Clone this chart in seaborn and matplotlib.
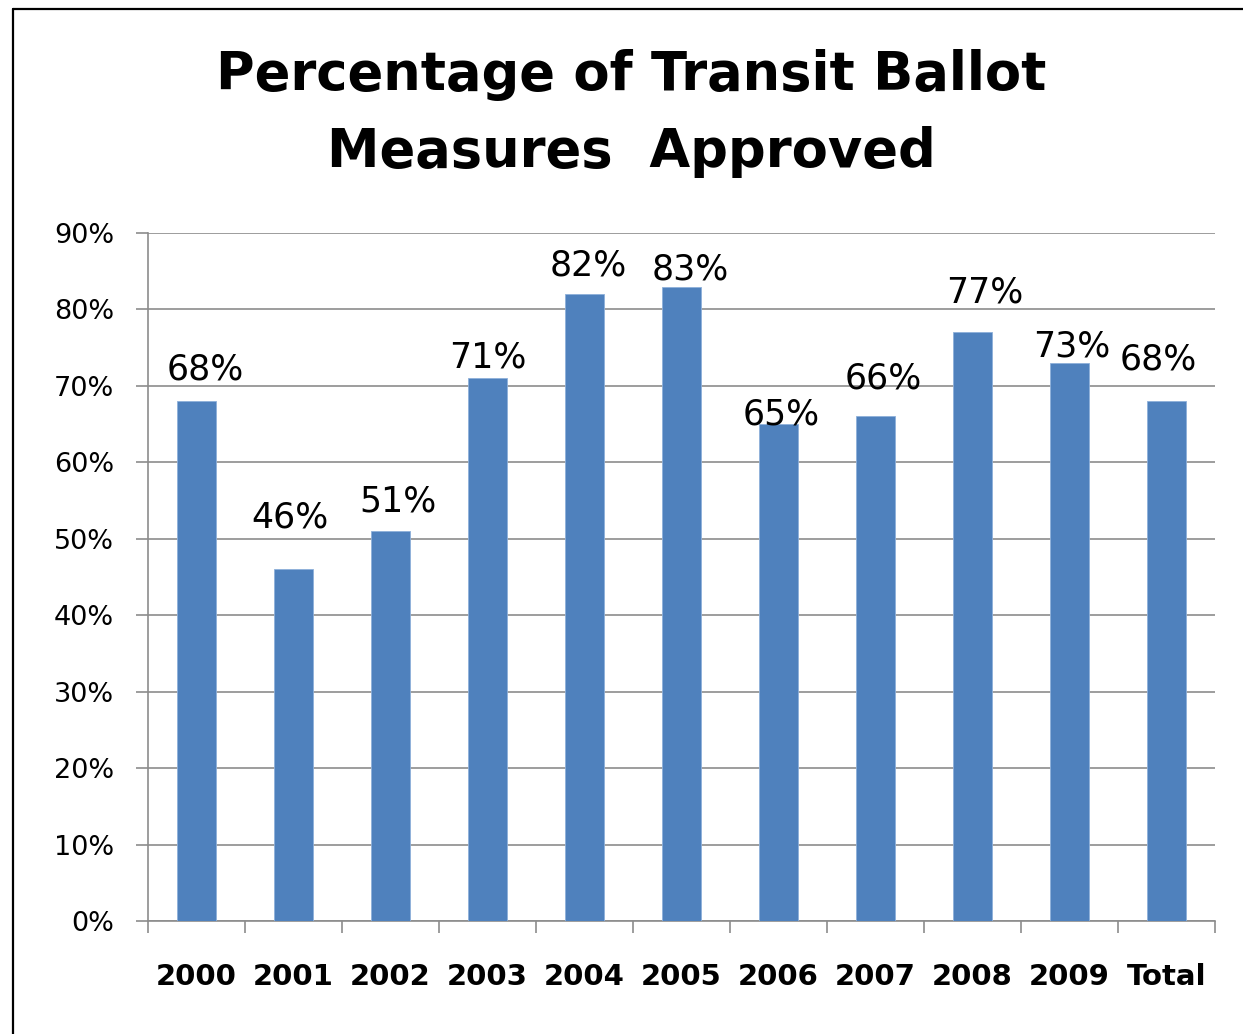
import numpy as np
import pandas as pd
import matplotlib
matplotlib.use('Agg')
import matplotlib.pyplot as plt
from matplotlib.lines import Line2D
from matplotlib.ticker import FixedLocator
import seaborn as sns

# dane
years = ['2000', '2001', '2002', '2003', '2004', '2005', '2006', '2007', '2008', '2009', 'Total']
approved = [68, 46, 51, 71, 82, 83, 65, 66, 77, 73, 68]
labels = [f'{v}%' for v in approved]

# przesuniecia etykiet (kategorie, punkty procentowe)
label_dx = [0.09, -0.04, 0.08, 0.0, 0.04, 0.09, 0.03, 0.08, 0.13, 0.02, -0.08]
label_dy = [4.1, 6.8, 3.85, 2.65, 3.8, 2.2, 1.2, 5.0, 5.2, 2.1, 5.4]

df = pd.DataFrame({'year': years, 'pct': approved})

sns.set_style('white')
plt.rcParams['font.family'] = ['DejaVu Sans']
plt.rcParams['text.color'] = 'black'
plt.rcParams['xtick.labelcolor'] = 'black'
plt.rcParams['ytick.labelcolor'] = 'black'

fig = plt.figure(figsize=(12.43, 10.34), dpi=100)
ax = fig.add_axes([148 / 1243, 1 - 921 / 1034, (1215 - 148) / 1243, (921 - 233) / 1034])

sns.barplot(data=df, x='year', y='pct', color='#4F81BD', width=0.4, saturation=1,
            edgecolor='#8EB0DA', linewidth=0.6, ax=ax, zorder=3)

ax.set_xlim(-0.5, len(years) - 0.5)
ax.set_ylim(0, 90)
ax.set_yticks(range(0, 91, 10))
ax.set_yticklabels([f'{t}%' for t in range(0, 91, 10)], fontsize=19.5)
ax.yaxis.grid(True, color='#8c8c8c', linewidth=1.2, zorder=0)
ax.set_axisbelow(True)
ax.tick_params(axis='y', length=8.5, width=1.2, color='#8c8c8c', pad=16, left=True)

ax.set_xticks(range(len(years)))
ax.set_xticklabels(years, fontsize=21, fontweight='bold')
ax.tick_params(axis='x', which='major', length=0, pad=30)
ax.xaxis.set_minor_locator(FixedLocator(np.arange(-0.5, len(years), 1.0)))
ax.tick_params(axis='x', which='minor', length=8.5, width=1.2, color='#8c8c8c', bottom=True)

for side in ['top', 'right']:
    ax.spines[side].set_visible(False)
for side in ['left', 'bottom']:
    ax.spines[side].set_color('#8c8c8c')
    ax.spines[side].set_linewidth(1.2)

ax.set_xlabel('')
ax.set_ylabel('')

for i, (v, lab) in enumerate(zip(approved, labels)):
    ax.text(i + label_dx[i], v + label_dy[i], lab, ha='center', va='center',
            fontsize=25, color='black', zorder=5)

fig.text(0.508, 0.89, 'Percentage of Transit Ballot\nMeasures  Approved',
         ha='center', va='center', fontsize=38, fontweight='bold', linespacing=1.6,
         color='black')

# ramka
fig.add_artist(Line2D([12.5 / 1243, 12.5 / 1243], [-0.01, 1 - 8.5 / 1034], color='black', lw=1.6))
fig.add_artist(Line2D([12.5 / 1243, 1.01], [1 - 8.5 / 1034, 1 - 8.5 / 1034], color='black', lw=1.6))

fig.savefig('out.png', dpi=100)
